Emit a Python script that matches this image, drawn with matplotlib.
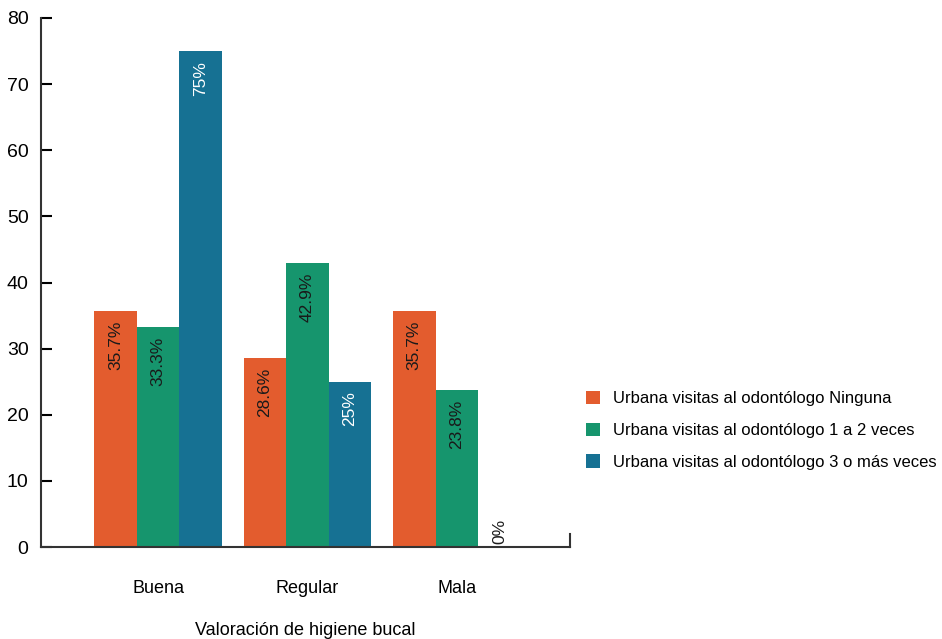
import matplotlib
matplotlib.use("Agg")
import matplotlib.pyplot as plt
import numpy as np

plt.rcParams['font.family'] = ['Liberation Sans', 'DejaVu Sans']

categorias = ["Buena", "Regular", "Mala"]
series = [
    "Urbana visitas al odontólogo Ninguna",
    "Urbana visitas al odontólogo 1 a 2 veces",
    "Urbana visitas al odontólogo 3 o más veces",
]
ninguna = [35.7, 28.6, 35.7]
una_dos = [33.3, 42.9, 23.8]
tres_mas = [75, 25, 0]
etiquetas = [
    ["35.7%", "28.6%", "35.7%"],
    ["33.3%", "42.9%", "23.8%"],
    ["75%", "25%", "0%"],
]
colores = ["#E35C2E", "#16956D", "#167193"]
color_texto = ["#1a1a1a", "#1a1a1a", "white"]

fig = plt.figure(figsize=(9.42, 6.39), dpi=100)
ax = fig.add_axes([41/942, 1 - 547/639, (570 - 41)/942, (547 - 18)/639])

x = np.arange(len(categorias))
ancho = 0.285
valores = [ninguna, una_dos, tres_mas]
for i, (vals, col) in enumerate(zip(valores, colores)):
    pos = x + (i - 1) * ancho
    ax.bar(pos, vals, width=ancho, color=col, label=series[i])
    for xp, v, txt in zip(pos, vals, etiquetas[i]):
        if v > 0:
            ax.annotate(txt, (xp, v), xytext=(0, -7), textcoords="offset points",
                        rotation=90, ha="center", va="top", fontsize=12.5,
                        color=color_texto[i])
        else:
            ax.annotate(txt, (xp, v), xytext=(0, 2), textcoords="offset points",
                        rotation=90, ha="center", va="bottom", fontsize=12.5,
                        color="#1a1a1a")

ax.set_xlim(-0.785, 2.758)
ax.set_ylim(0, 80)
ax.set_yticks(range(0, 81, 10))
ax.tick_params(axis="y", direction="in", length=8, width=1.5, labelsize=14, pad=9)
ax.set_xticks(x)
ax.set_xticklabels(categorias)
ax.tick_params(axis="x", length=0, labelsize=13, pad=24)
ax.set_xlabel("Valoración de higiene bucal", fontsize=13, labelpad=18)

ax.spines["top"].set_visible(False)
ax.spines["right"].set_bounds(0, 2)
for s in ["left", "bottom", "right"]:
    ax.spines[s].set_linewidth(1.5)
    ax.spines[s].set_color("#333333")

fig.legend(loc="upper left", bbox_to_anchor=(586/942, 1 - 391/639), frameon=False,
           fontsize=12, handlelength=0.84, handleheight=0.84, handletextpad=0.78,
           labelspacing=0.98, borderpad=0, borderaxespad=0)

fig.savefig("out.png", dpi=100)
